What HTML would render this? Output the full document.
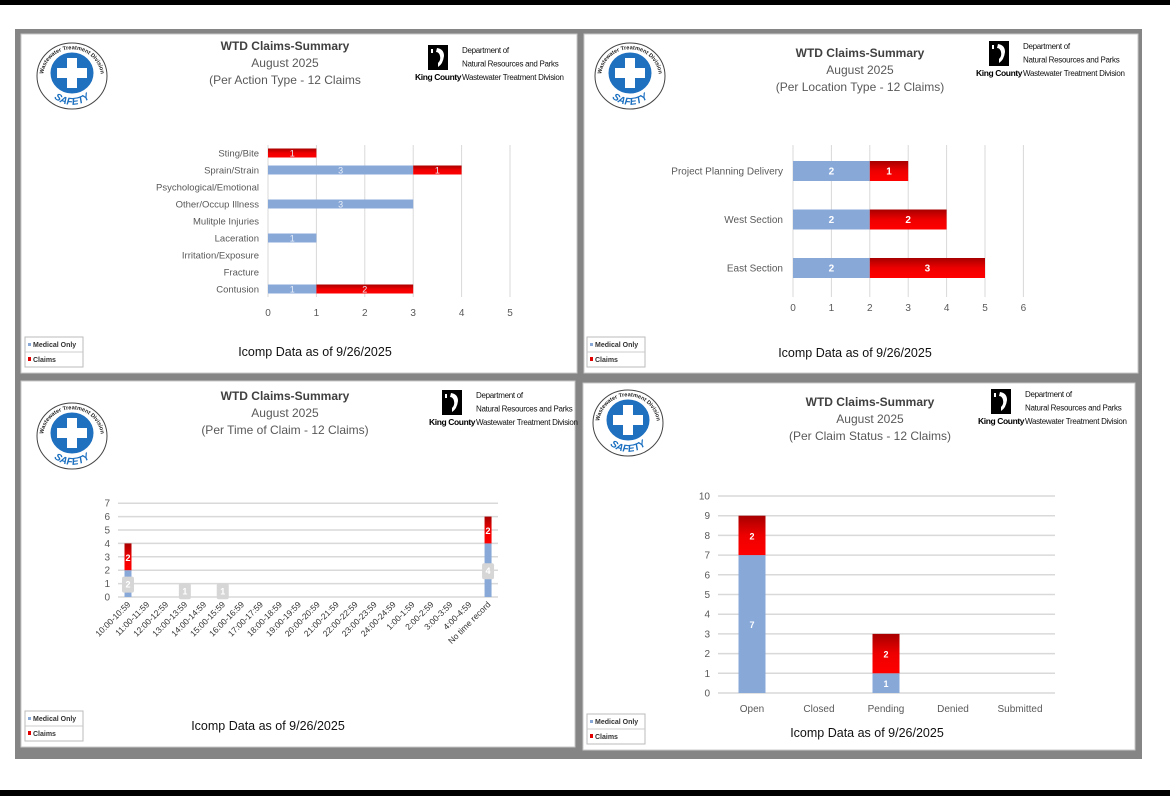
<!DOCTYPE html>
<html><head><meta charset="utf-8">
<style>
html,body{margin:0;padding:0;background:#fff;}
svg{display:block;font-family:"Liberation Sans",sans-serif;}
</style></head>
<body>
<svg id="root" width="1170" height="796" viewBox="0 0 1170 796">
  <rect x="0" y="0" width="1170" height="5" fill="#000"/>
  <rect x="0" y="790" width="1170" height="6" fill="#000"/>
  <rect x="15" y="29" width="1127" height="730" fill="#858585"/>
  <rect x="21" y="34" width="556" height="339" fill="#fff" stroke="#c8c8c8"/>
  <rect x="584" y="34" width="554" height="339" fill="#fff" stroke="#c8c8c8"/>
  <rect x="21" y="381" width="554" height="366" fill="#fff" stroke="#c8c8c8"/>
  <rect x="583" y="383" width="552" height="367" fill="#fff" stroke="#c8c8c8"/>
  <defs>
    <linearGradient id="redGrad" x1="0" y1="0" x2="0" y2="1">
      <stop offset="0" stop-color="#a80000"/><stop offset="0.5" stop-color="#ee0000"/><stop offset="1" stop-color="#ff0000"/>
    </linearGradient>
  </defs>
</svg>
<script>
// ---- chart data ----
const actCats = ['Sting/Bite','Sprain/Strain','Psychological/Emotional','Other/Occup Illness','Mulitple Injuries','Laceration','Irritation/Exposure','Fracture','Contusion'];
const actMed = [0,3,0,3,0,1,0,0,1];
const actClm = [1,1,0,0,0,0,0,0,2];
const actTicks = [0,1,2,3,4,5];

const locCats = ['Project Planning Delivery','West Section','East Section'];
const locMed = [2,2,2];
const locClm = [1,2,3];
const locTicks = [0,1,2,3,4,5,6];

const timeCats = ['10:00-10:59','11:00-11:59','12:00-12:59','13:00-13:59','14:00-14:59','15:00-15:59','16:00-16:59','17:00-17:59','18:00-18:59','19:00-19:59','20:00-20:59','21:00-21:59','22:00-22:59','23:00-23:59','24:00-24:59','1:00-1:59','2:00-2:59','3:00-3:59','4:00-4:59','No time record'];
const timeMed = [2,0,0,1,0,1,0,0,0,0,0,0,0,0,0,0,0,0,0,4];
const timeClm = [2,0,0,0,0,0,0,0,0,0,0,0,0,0,0,0,0,0,0,2];
const timeTicks = [0,1,2,3,4,5,6,7];

const statusCats = ['Open','Closed','Pending','Denied','Submitted'];
const statusMed = [7,0,1,0,0];
const statusClm = [2,0,2,0,0];
const statusTicks = [0,1,2,3,4,5,6,7,8,9,10];

const subtitles = ['(Per Action Type - 12 Claims','(Per Location Type - 12 Claims)','(Per Time of Claim - 12 Claims)','(Per Claim Status - 12 Claims)'];

const NS = 'http://www.w3.org/2000/svg';
const root = document.getElementById('root');
function mk(parent, tag, attrs, text){
  const e = document.createElementNS(NS, tag);
  for (const k in attrs) e.setAttribute(k, attrs[k]);
  if (text != null) e.textContent = text;
  parent.appendChild(e);
  return e;
}
const MED = '#88a8d8';
const GRID = '#d9d9d9';
const LBL = '#595959';

function logo(cx, cy, idx){
  const g = mk(root,'g',{});
  
  
  mk(g,'ellipse',{cx:cx,cy:cy,rx:35,ry:33,fill:'#fff',stroke:'#444','stroke-width':1});
  const pid = 'arc'+idx;
  mk(g,'path',{id:pid,d:`M ${cx-24} ${cy+17} A 29 28 0 1 1 ${cx+24} ${cy+17}`,fill:'none'});
  const t = mk(g,'text',{'font-size':5.6,'font-weight':'bold',fill:'#222'});
  
  
  mk(t,'textPath',{href:'#'+pid,startOffset:'50%','text-anchor':'middle'},'Wastewater Treatment Division');
  const pid2 = 'arcb'+idx;
  mk(g,'path',{id:pid2,d:`M ${cx-24} ${cy+14} A 26 24 0 0 0 ${cx+24} ${cy+14}`,fill:'none'});
  const s = mk(g,'text',{'font-size':10,'font-weight':'bold',fill:'#1a6fc0','font-style':'italic'});
  
  
  mk(s,'textPath',{href:'#'+pid2,startOffset:'50%','text-anchor':'middle'},'SAFETY');
  mk(g,'ellipse',{cx:cx,cy:cy-3,rx:22,ry:21,fill:'#1f70bf',stroke:'#fff','stroke-width':1});
  mk(g,'rect',{x:cx-5,y:cy-18,width:10,height:30,fill:'#fff'});
  mk(g,'rect',{x:cx-15,y:cy-8,width:30,height:10,fill:'#fff'});
}
function header(cx, ty, idx){
  const t1 = mk(root,'text',{x:cx,y:ty,'text-anchor':'middle','font-size':12,'font-weight':'bold',fill:'#404040'},'WTD Claims-Summary');
  
  
  const t2 = mk(root,'text',{x:cx,y:ty+17,'text-anchor':'middle','font-size':12,fill:'#595959'},'August 2025');
  
  
  const t3 = mk(root,'text',{x:cx,y:ty+34,'text-anchor':'middle','font-size':12,fill:'#595959'},subtitles[idx]);
  
  
}
function kc(x, y){
  const g = mk(root,'g',{});
  
  
  mk(g,'rect',{x:x,y:y,width:20,height:25,fill:'#000'});
  mk(g,'path',{d:`M ${x+9} ${y+3} q 7 1 7 8 q -1 8 -6 11 l 0 -4 q 3 -3 2 -7 q -1 -4 -4 -4 z`,fill:'#fff'});
  mk(g,'rect',{x:x+3,y:y+4,width:2,height:4,fill:'#fff'});
  const a = mk(g,'text',{x:x-13,y:y+35,'font-size':8.5,'font-weight':'bold',fill:'#000','letter-spacing':'-0.4'},'King County');
  
  
  const lines=['Department of','Natural Resources and Parks','Wastewater Treatment Division'];
  lines.forEach((l,i)=>{
    const t = mk(g,'text',{x:x+34,y:y+8+i*13.5,'font-size':8,fill:'#111','letter-spacing':'-0.3'},l);
    
    
  });
}
function legend(x, y){
  const g = mk(root,'g',{});
  
  
  mk(g,'rect',{x:x,y:y,width:58,height:30,fill:'#fff',stroke:'#bbb'});
  mk(g,'line',{x1:x,y1:y+15,x2:x+58,y2:y+15,stroke:'#ccc'});
  const e1 = mk(g,'g',{});
  
  
  mk(e1,'rect',{x:x+3,y:y+6,width:3,height:3,fill:MED});
  mk(e1,'text',{x:x+8,y:y+10,'font-size':7,'font-weight':'bold',fill:'#333'},'Medical Only');
  const e2 = mk(g,'g',{});
  
  
  mk(e2,'rect',{x:x+3,y:y+20,width:3,height:4,fill:'#e00000'});
  mk(e2,'text',{x:x+8,y:y+25,'font-size':7,'font-weight':'bold',fill:'#333'},'Claims');
}
function footer(cx, y){
  const t = mk(root,'text',{x:cx,y:y,'text-anchor':'middle','font-size':12.5,fill:'#111'},'Icomp Data as of 9/26/2025');
  
  
}

logo(72,76,0); header(285,50,0); kc(428,45); legend(25,337); footer(315,356);
logo(630,76,1); header(860,57,1); kc(989,41); legend(587,337); footer(855,357);
logo(72,436,2); header(285,400,2); kc(442,390); legend(25,711); footer(268,730);
logo(628,423,3); header(870,406,3); kc(991,389); legend(587,714); footer(867,737);

function hbar(name, cats, med, clm, ticks, x0, unit, rowY, barH, gTop, gBot, labX, tickY, lblStyle){
  const g = mk(root,'g',{});
  
  
  const xs = v => x0 + v*unit;
  ticks.forEach(t=>{
    const l = mk(g,'line',{x1:xs(t),y1:gTop,x2:xs(t),y2:gBot,stroke:GRID});
    
    
    const tx = mk(g,'text',{x:xs(t),y:tickY,'text-anchor':'middle','font-size':10,fill:LBL},String(t));
    
    
  });
  cats.forEach((c,i)=>{
    const y = rowY(i);
    const lb = mk(g,'text',{x:labX,y:y+3.5,'text-anchor':'end','font-size':lblStyle.fs,fill:LBL},c);
    
    
    if (med[i]>0){
      const r = mk(g,'rect',{x:xs(0),y:y-barH/2,width:xs(med[i])-xs(0),height:barH,fill:MED});
      
      
      const t = mk(g,'text',{x:(xs(0)+xs(med[i]))/2,y:y+3.5,'text-anchor':'middle','font-size':lblStyle.vs,'font-weight':lblStyle.w,fill:lblStyle.c},String(med[i]));
      
      
    }
    if (clm[i]>0){
      const r = mk(g,'rect',{x:xs(med[i]),y:y-barH/2,width:xs(med[i]+clm[i])-xs(med[i]),height:barH,fill:'url(#redGrad)'});
      
      
      const t = mk(g,'text',{x:(xs(med[i])+xs(med[i]+clm[i]))/2,y:y+3.5,'text-anchor':'middle','font-size':lblStyle.vs,'font-weight':lblStyle.w,fill:lblStyle.c},String(clm[i]));
      
      
    }
  });
}
hbar('action-type-chart', actCats, actMed, actClm, actTicks, 268, 48.4, i=>153+i*17, 9, 145, 297, 259, 316, {fs:9.5, vs:9, w:'normal', c:'#e8eef8'});
hbar('location-type-chart', locCats, locMed, locClm, locTicks, 793, 38.4, i=>171+i*48.5, 20, 145, 297, 783, 311, {fs:10, vs:10, w:'bold', c:'#fff'});

function vbar(name, cats, med, clm, ticks, y0, unit, catX, barW, gx1, gx2, tickX, rot, medBox){
  const g = mk(root,'g',{});
  
  
  const ys = v => y0 - v*unit;
  ticks.forEach(t=>{
    const l = mk(g,'line',{x1:gx1,y1:ys(t),x2:gx2,y2:ys(t),stroke:GRID,'stroke-width':1.5});
    
    
    const tx = mk(g,'text',{x:tickX,y:ys(t)+3.5,'text-anchor':'end','font-size':10,fill:LBL},String(t));
    
    
  });
  cats.forEach((c,i)=>{
    const x = catX(i);
    let lb;
    if (rot){
      lb = mk(g,'text',{x:x+3,y:y0+8,'text-anchor':'end','font-size':8.5,fill:'#333',transform:`rotate(-45 ${x+3} ${y0+8})`},c);
    } else {
      lb = mk(g,'text',{x:x,y:y0+19,'text-anchor':'middle','font-size':10,fill:LBL},c);
    }
    
    
    if (med[i]>0){
      const r = mk(g,'rect',{x:x-barW/2,y:ys(med[i]),width:barW,height:ys(0)-ys(med[i]),fill:MED});
      
      
      const my = (ys(0)+ys(med[i]))/2;
      if (medBox){
        const b = mk(g,'rect',{x:x-6,y:my-7,width:12,height:16,rx:2,fill:'#d6d6d6'});
        
        
      }
      const t = mk(g,'text',{x:x,y:my+4,'text-anchor':'middle','font-size':9,'font-weight':'bold',fill:'#fff'},String(med[i]));
      
      
    }
    if (clm[i]>0){
      const r = mk(g,'rect',{x:x-barW/2,y:ys(med[i]+clm[i]),width:barW,height:ys(med[i])-ys(med[i]+clm[i]),fill:'url(#redGrad)'});
      
      
      const t = mk(g,'text',{x:x,y:(ys(med[i])+ys(med[i]+clm[i]))/2+4,'text-anchor':'middle','font-size':9,'font-weight':'bold',fill:'#fff'},String(clm[i]));
      
      
    }
  });
}
vbar('time-of-claim-chart', timeCats, timeMed, timeClm, timeTicks, 597, 13.4, i=>128+i*18.95, 7, 118, 498, 110, true, true);
vbar('claim-status-chart', statusCats, statusMed, statusClm, statusTicks, 693, 19.7, i=>752+i*67, 27, 718, 1055, 710, false, false);
</script>
</body></html>
